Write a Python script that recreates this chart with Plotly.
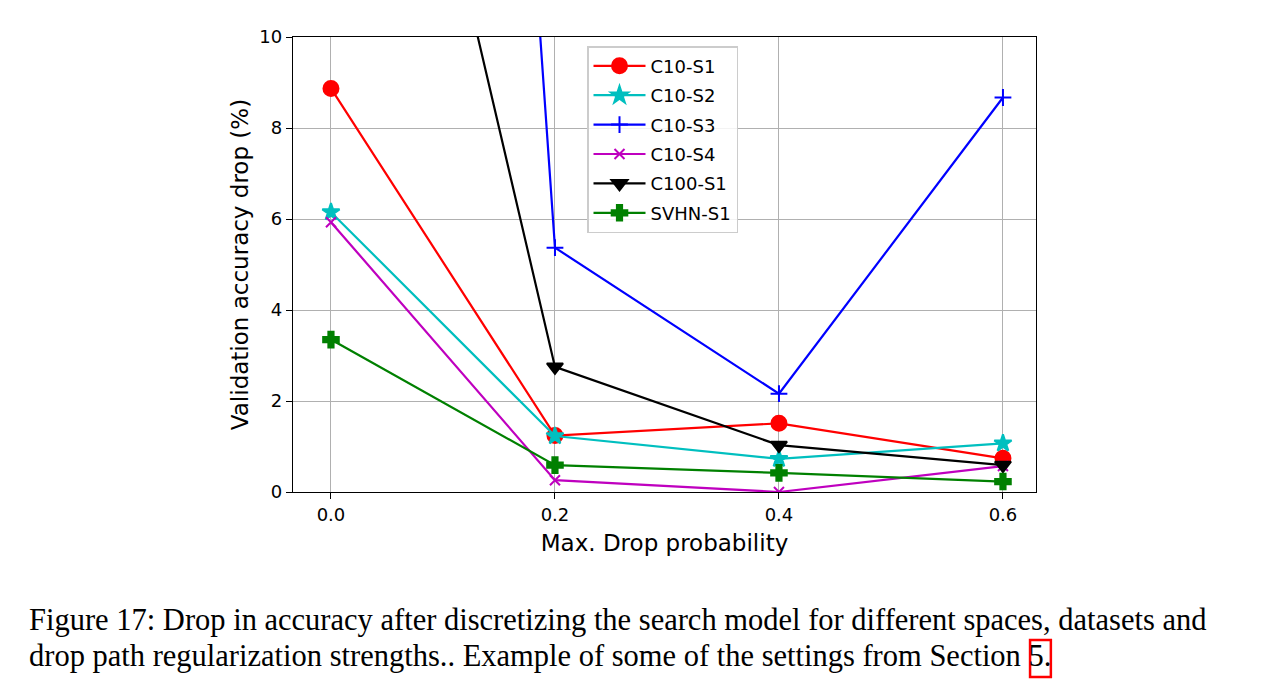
import plotly.graph_objects as go

x_vals = [0.0, 0.2, 0.4, 0.6]
series_names = ["C10-S1", "C10-S2", "C10-S3", "C10-S4", "C100-S1", "SVHN-S1"]
c10_s1 = [8.87, 1.24, 1.51, 0.74]
c10_s2 = [6.15, 1.23, 0.73, 1.07]
c10_s3 = [76.0, 5.37, 2.16, 8.67]
c10_s4 = [5.93, 0.26, 0.0, 0.57]
c100_s1 = [23.8, 2.75, 1.03, 0.59]
svhn_s1 = [3.35, 0.59, 0.42, 0.23]
x_ticks = [0.0, 0.2, 0.4, 0.6]
x_tick_labels = ["0.0", "0.2", "0.4", "0.6"]
y_ticks = [0, 2, 4, 6, 8, 10]

styles = [
    ("#ff0000", "circle", 15),
    ("#00bfbf", "star", 13),
    ("#0000ff", "cross-thin-open", 12),
    ("#bf00bf", "x-thin-open", 10),
    ("#000000", "triangle-down", 14),
    ("#008000", "cross", 13),
]
data = [c10_s1, c10_s2, c10_s3, c10_s4, c100_s1, svhn_s1]

fig = go.Figure()
for name, ys, (col, sym, sz) in zip(series_names, data, styles):
    fig.add_trace(go.Scatter(
        x=x_vals, y=ys, name=name, mode="lines+markers", legendgroup=name,
        line=dict(color=col, width=2.2),
        marker=dict(color=col, symbol=sym, size=sz, line=dict(color=col, width=2)),
        cliponaxis=True,
    ))

axis_common = dict(
    showline=True, linecolor="black", linewidth=1.3, mirror=True,
    ticks="outside", ticklen=6, tickwidth=1.3, tickcolor="black",
    showgrid=True, gridcolor="#b0b0b0", gridwidth=1.4, zeroline=False,
    tickfont=dict(family="DejaVu Sans", size=18, color="black"),
)

W, H = 1266, 677
fig.update_layout(
    width=W, height=H,
    paper_bgcolor="white", plot_bgcolor="white",
    margin=dict(l=285, r=238, t=29, b=193),
    showlegend=True,
    legend=dict(
        x=0.3957, y=0.98, xanchor="left", yanchor="top",
        bgcolor="rgba(255,255,255,0.85)", bordercolor="#cccccc", borderwidth=1.5,
        font=dict(family="DejaVu Sans", size=18, color="black"),
        tracegroupgap=3, itemwidth=52,
    ),
    xaxis=dict(
        range=[-0.0339, 0.6295], tickvals=x_ticks, ticktext=x_tick_labels,
        title=dict(text="Max. Drop probability", font=dict(family="DejaVu Sans", size=23, color="black"), standoff=11),
        **axis_common,
    ),
    yaxis=dict(
        range=[0, 10], tickvals=y_ticks,
        title=dict(text="Validation accuracy drop (%)", font=dict(family="DejaVu Sans", size=23, color="black"), standoff=4),
        **axis_common,
    ),
)

cap_font = dict(family="Liberation Serif", size=30.5, color="black")
fig.add_annotation(
    xref="paper", yref="paper", x=-0.358, y=-0.281, xanchor="left", yanchor="middle",
    text="Figure 17: Drop in accuracy after discretizing the search model for different spaces, datasets and",
    showarrow=False, font=cap_font, align="left",
)
fig.add_annotation(
    xref="paper", yref="paper", x=-0.358, y=-0.361, xanchor="left", yanchor="middle",
    text="drop path regularization strengths.. Example of some of the settings from Section 5.",
    showarrow=False, font=cap_font, align="left",
)
fig.add_shape(
    type="rect", xref="paper", yref="paper",
    x0=0.992, x1=1.020, y0=-0.4066, y1=-0.325,
    line=dict(color="#ff0000", width=2.5), fillcolor="rgba(0,0,0,0)",
)

fig.write_html("out.html")
